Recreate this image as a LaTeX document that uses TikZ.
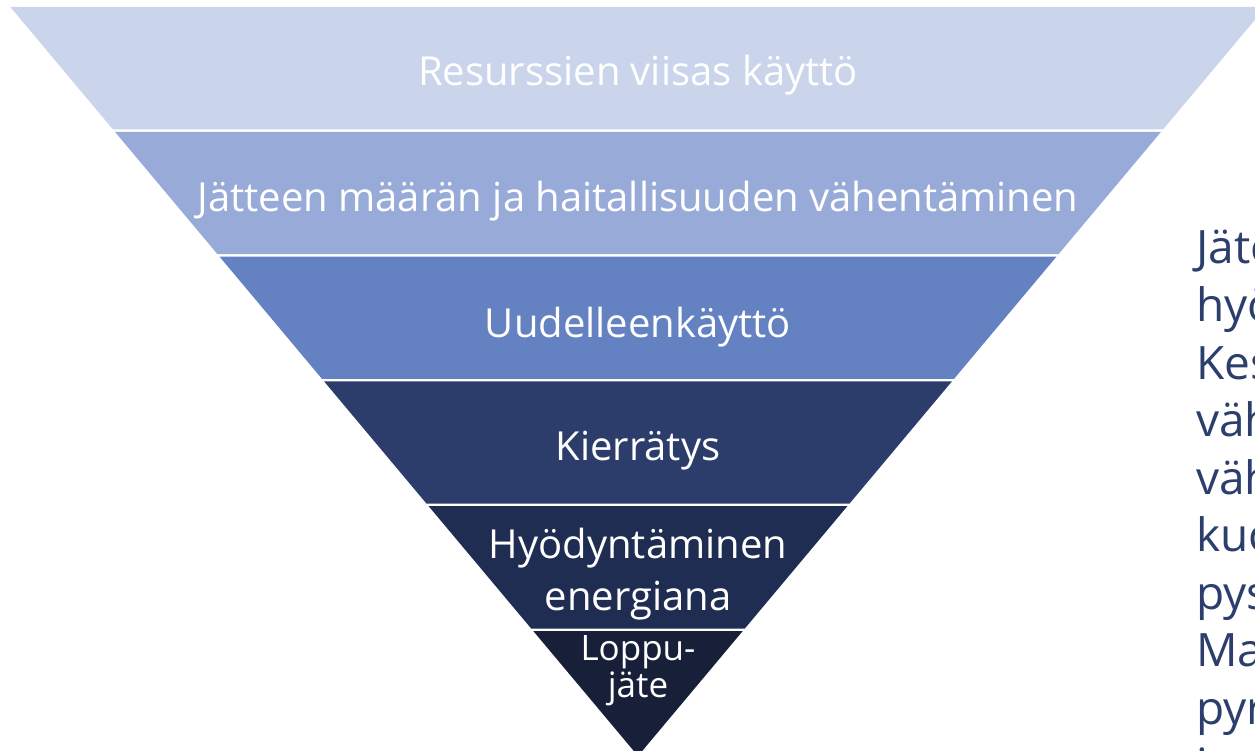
\documentclass[tikz,border=0pt]{standalone}
\usepackage{fontspec}
\setmainfont{Open Sans}
\usepackage{tikz}
\usetikzlibrary{positioning}

\definecolor{levelA}{HTML}{CAD5EC}
\definecolor{levelB}{HTML}{98ABD8}
\definecolor{levelC}{HTML}{6481C2}
\definecolor{levelD}{HTML}{2C3D6B}
\definecolor{levelE}{HTML}{202D52}
\definecolor{levelF}{HTML}{182039}
\definecolor{sideblue}{HTML}{2C3E6C}

\begin{document}
\begin{tikzpicture}[x=1pt,y=-1pt,
    bandtext/.style={text=white, inner sep=0pt, font=\fontsize{40}{52}\selectfont},
    endtext/.style={text=white, inner sep=0pt, font=\fontsize{35}{40}\selectfont},
    sidetext/.style={text=sideblue, inner sep=0pt, font=\fontsize{46}{57}\selectfont}]
    \clip (0,0) rectangle (1255,751);

    % Draw the bands of the pyramid
    \foreach \i/\col in {0/levelA, 1/levelB, 2/levelC, 3/levelD, 4/levelE, 5/levelF} {
      \pgfmathsetmacro\ytop{7+124.8*\i}
      \pgfmathsetmacro\ybot{\ytop+124.8-2.5}
      \pgfmathsetmacro\wtop{(756-\ytop)*0.838}
      \pgfmathsetmacro\wbot{max(0,(756-\ybot)*0.838)}
      \fill[\col] (638-\wtop,\ytop) -- (638+\wtop,\ytop) -- (638+\wbot,\ybot) -- (638-\wbot,\ybot) -- cycle;
    }

    % Labels of the bands
    \foreach \name/\y/\txt in {wise/86/Resurssien viisas käyttö, reduce/212/Jätteen määrän ja haitallisuuden vähentäminen, reuse/337/Uudelleenkäyttö, recycle/460/Kierrätys, energy/558/Hyödyntäminen, energyb/610/energiana} {
      \node[bandtext, anchor=base] (\name) at (638,\y) {\txt};
    }
    \node[endtext, anchor=base] (final) at (638,660) {Loppu-};
    \node[endtext, anchor=base] (finalb) at (638,697) {jäte};

    % Text at the right edge, cut by the border
    \foreach \n/\w in {0/Jäte, 1/hyöd, 2/Kesk, 3/vähe, 4/vähe, 5/kuor, 6/pysy, 7/Mat, 8/pyri, 9/i} {
      \node[sidetext, anchor=base west] (side\n) at (1196,264+57.5*\n) {\w};
    }
\end{tikzpicture}
\end{document}
